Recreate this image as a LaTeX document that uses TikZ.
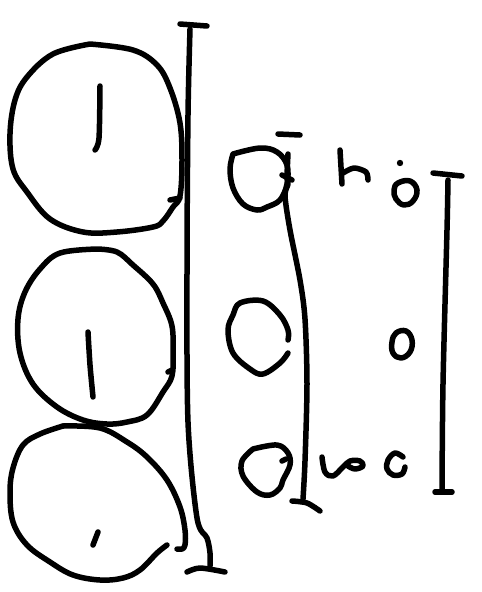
\documentclass[tikz,border=0pt]{standalone}
\begin{document}
\begin{tikzpicture}[x=1pt,y=-1pt,
  ink/.style={draw=black,line width=5.5pt,line cap=round,line join=round}]
\useasboundingbox (0,0) rectangle (482,592);
\fill[white] (0,0) rectangle (482,592);
% big circle 1
\draw[ink] plot[smooth,tension=0.6] coordinates {(90,44) (133,50) (157,65) (170,88) (180,123) (182,161) (180,196) (173,207) (163,221) (153,227) (117,232) (83,232) (50,219) (27,192) (13,169) (10,134) (15,100) (27,77) (53,54) (90,44)};
\draw[ink] (170,200) -- (180,198);
\draw[ink] plot[smooth] coordinates {(100,86) (99,138) (95,150)};
% big circle 2
\draw[ink] plot[smooth,tension=0.6] coordinates {(97,249) (117,252) (133,265) (153,284) (163,303) (172,326) (173,353) (172,376) (163,392) (147,415) (127,422) (107,424) (83,420) (57,407) (33,384) (20,353) (18,319) (25,292) (40,269) (60,253) (97,249)};
\draw[ink] (168,372) -- (172,370);
\draw[ink] plot[smooth] coordinates {(88,332) (90,365) (93,397)};
% big circle 3
\draw[ink] plot[smooth,tension=0.6] coordinates {(63,426) (100,428) (127,442) (147,457) (167,480) (180,507) (185,530) (185,545) (182,549) (177,549)};
\draw[ink] plot[smooth,tension=0.6] coordinates {(167,545) (157,553) (140,570) (123,578) (100,580) (73,575) (50,562) (27,545) (13,522) (10,492) (13,468) (23,445) (40,434) (63,426)};
\draw[ink] plot[smooth] coordinates {(98,532) (93,545)};
% big bracket
\draw[ink] (180,24) -- (207,26);
\draw[ink] plot[smooth] coordinates {(190,29) (188,115) (187,269) (188,422) (197,518) (207,538) (210,553) (210,566)};
\draw[ink] plot[smooth] coordinates {(187,572) (200,568) (225,572)};
% small circle 1
\draw[ink] plot[smooth,tension=0.6] coordinates {(233,154) (260,148) (277,152) (287,165) (287,184) (280,200) (267,207) (257,210) (243,204) (233,188) (230,169) (233,154)};
% mid bracket
\draw[ink] (278,134) -- (300,135);
\draw[ink] plot[smooth] coordinates {(288,154) (287,177) (288,184) (285,196) (290,230) (300,280) (305,319) (307,384) (305,461) (303,499)};
\draw[ink] plot[smooth] coordinates {(292,501) (307,503) (320,511)};
\draw[ink] (282,175) -- (292,180);
% small circle 2
\draw[ink] plot[smooth,tension=0.6] coordinates {(288,340) (288,330) (280,315) (263,301) (240,303) (233,315) (228,330) (233,353) (250,369) (263,374) (280,363) (288,353)};
% small circle 3
\draw[ink] plot[smooth,tension=0.6] coordinates {(253,449) (277,445) (288,453) (290,465) (283,480) (280,488) (270,495) (257,492) (243,476) (242,461) (253,449)};
\draw[ink] (282,461) -- (286,459);
% marks
\draw[ink] (340,150) -- (342,184);
\draw[ink] plot[smooth] coordinates {(343,173) (354,168) (366,172) (368,180)};
\fill (400,163) circle (3.2);
\draw[ink] plot[smooth cycle,tension=0.7] coordinates {(398,183) (410,181) (417,190) (413,201) (404,205) (396,199) (394,190)};
\draw[ink] plot[smooth cycle,tension=0.7] coordinates {(396,333) (406,331) (412,340) (410,352) (401,358) (393,353) (392,342)};
\draw[ink] plot[smooth,tension=0.6] coordinates {(322,457) (325,472) (333,476) (343,467) (350,461) (360,461) (363,466) (355,469) (348,466)};
\draw[ink] plot[smooth,tension=0.6] coordinates {(403,457) (395,453) (388,460) (387,469) (393,475) (402,474) (405,467)};
% right bracket
\draw[ink] (433,173) -- (462,176);
\draw[ink] plot[smooth] coordinates {(448,180) (447,230) (443,384) (442,492)};
\draw[ink] (435,492) -- (452,492);
\end{tikzpicture}
\end{document}
